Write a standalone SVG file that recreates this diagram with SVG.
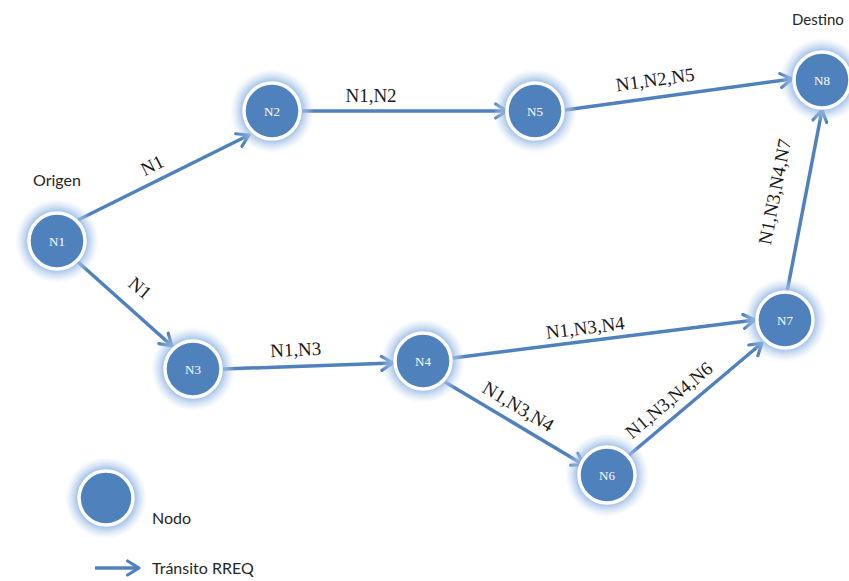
<svg xmlns="http://www.w3.org/2000/svg" width="849" height="581" viewBox="0 0 849 581">
<defs>
<radialGradient id="glow" cx="0.5" cy="0.5" r="0.5">
<stop offset="0.62" stop-color="#7ea7dc" stop-opacity="1"/>
<stop offset="0.8" stop-color="#a9c5ea" stop-opacity="0.6"/>
<stop offset="1" stop-color="#c6d9f1" stop-opacity="0"/>
</radialGradient>
<marker id="arr" viewBox="0 0 10 10" refX="8" refY="5" markerWidth="5" markerHeight="5" orient="auto" markerUnits="strokeWidth">
<polyline points="1.5,1 8,5 1.5,9" fill="none" stroke="#4f81bd" stroke-width="1.8" stroke-linecap="round" stroke-linejoin="round"/>
</marker>
</defs>
<style>
.glow{fill:url(#glow)}
.ring{fill:#4f81bd;stroke:#ffffff;stroke-width:3.5}
.nl{font-family:"Liberation Serif",serif;font-size:13px;fill:#ffffff;text-anchor:middle}
.el{font-family:"Liberation Serif",serif;font-size:19px;fill:#1a1a1a;text-anchor:middle}
.tx{font-family:Lato,"Liberation Sans",sans-serif;font-size:16px;fill:#262626}
.edge{stroke:#4f81bd;stroke-width:3.5;fill:none;marker-end:url(#arr)}
</style>
<rect width="849" height="581" fill="#ffffff"/>
<g id="connectors">
<line class="edge" x1="78" y1="220" x2="249" y2="135"/>
<line class="edge" x1="78" y1="262" x2="172" y2="346"/>
<line class="edge" x1="302" y1="111" x2="507" y2="111"/>
<line class="edge" x1="565" y1="110" x2="792" y2="79"/>
<line class="edge" x1="223" y1="369" x2="393" y2="363"/>
<line class="edge" x1="453" y1="358" x2="755" y2="320"/>
<line class="edge" x1="445" y1="382" x2="584" y2="465"/>
<line class="edge" x1="628" y1="456" x2="762" y2="343"/>
<line class="edge" x1="787" y1="292" x2="822" y2="110"/>
<text class="el" transform="translate(155,171) rotate(-27)">N1</text>
<text class="el" transform="translate(136,293) rotate(40)">N1</text>
<text class="el" transform="translate(371,102)">N1,N2</text>
<text class="el" transform="translate(656,86) rotate(-8)">N1,N2,N5</text>
<text class="el" transform="translate(296,356) rotate(-3)">N1,N3</text>
<text class="el" transform="translate(586,334) rotate(-7)">N1,N3,N4</text>
<text class="el" transform="translate(515,412) rotate(31)">N1,N3,N4</text>
<text class="el" transform="translate(673,405) rotate(-40)">N1,N3,N4,N6</text>
<text class="el" transform="translate(781,193) rotate(-79)">N1,N3,N4,N7</text>
</g>
<g id="N1"><circle class="glow" cx="57" cy="241" r="42"/><circle class="ring" cx="57" cy="241" r="28"/><text class="nl" x="57" y="246">N1</text></g>
<g id="N2"><circle class="glow" cx="272" cy="111" r="42"/><circle class="ring" cx="272" cy="111" r="28"/><text class="nl" x="272" y="116">N2</text></g>
<g id="N5"><circle class="glow" cx="535" cy="111" r="42"/><circle class="ring" cx="535" cy="111" r="28"/><text class="nl" x="535" y="116">N5</text></g>
<g id="N8"><circle class="glow" cx="822" cy="80" r="42"/><circle class="ring" cx="822" cy="80" r="28"/><text class="nl" x="822" y="85">N8</text></g>
<g id="N3"><circle class="glow" cx="193" cy="369" r="42"/><circle class="ring" cx="193" cy="369" r="28"/><text class="nl" x="193" y="374">N3</text></g>
<g id="N4"><circle class="glow" cx="423" cy="361" r="42"/><circle class="ring" cx="423" cy="361" r="28"/><text class="nl" x="423" y="366">N4</text></g>
<g id="N7"><circle class="glow" cx="785" cy="320" r="42"/><circle class="ring" cx="785" cy="320" r="28"/><text class="nl" x="785" y="325">N7</text></g>
<g id="N6"><circle class="glow" cx="607" cy="475" r="42"/><circle class="ring" cx="607" cy="475" r="28"/><text class="nl" x="607" y="480">N6</text></g>
<g id="labels">
<text class="tx" x="33" y="186">Origen</text>
<text class="tx" x="792" y="25" style="font-size:15px">Destino</text>
</g>
<g id="legend">
<circle class="glow" cx="106" cy="498" r="41"/><circle class="ring" cx="106" cy="498" r="27"/>
<text class="tx" x="152" y="524">Nodo</text>
<line class="edge" x1="95" y1="568" x2="139" y2="568"/>
<text class="tx" x="152" y="574">Tránsito RREQ</text>
</g>
</svg>
